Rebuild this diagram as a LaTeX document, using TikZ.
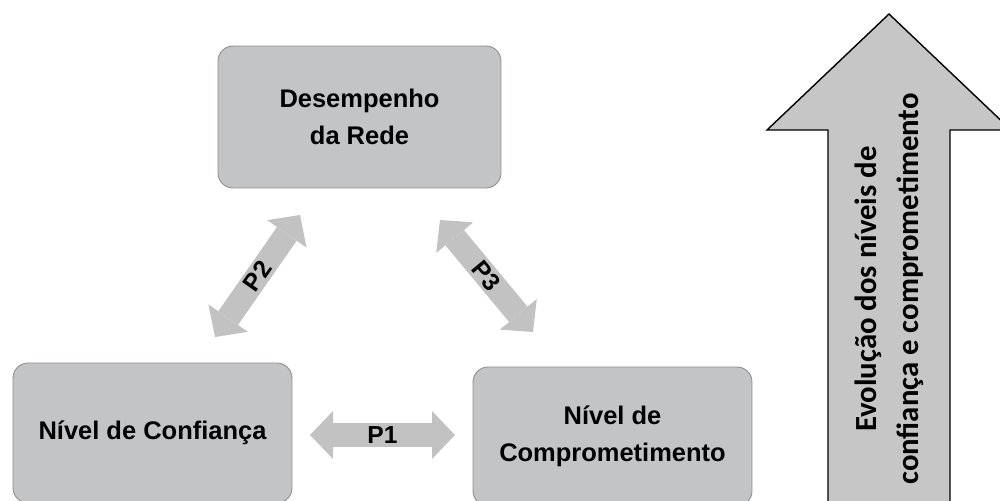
\documentclass[tikz,border=0pt]{standalone}
\usepackage{fontspec}
\setmainfont{Liberation Sans}
\newfontfamily\calibri{Carlito}
\usetikzlibrary{arrows.meta}

\definecolor{boxgray}{HTML}{C3C4C6}
\definecolor{boxline}{HTML}{8E8E8E}
\definecolor{linkgray}{HTML}{C2C2C2}
\definecolor{biggray}{HTML}{C6C6C6}

\begin{document}
\begin{tikzpicture}[x=0.02cm,y=-0.02cm,
    box/.style={draw=boxline,line width=0.5pt,fill=boxgray,rounded corners=0.3cm,
        align=center,font=\fontsize{14.5}{21}\selectfont\bfseries},
    link/.style={draw=linkgray,line width=0.48cm,
        {Triangle[length=0.46cm,width=0.96cm,line width=0pt]}-{Triangle[length=0.46cm,width=0.96cm,line width=0pt]}},
    ]
    
    \useasboundingbox (0,0) rectangle (1000,500);
    \clip (0,0) rectangle (1000,500);
    
    \node[box,minimum width=5.66cm,minimum height=2.84cm] (rede) at (359.5,117) {Desempenho\\da Rede};
    \node[box,minimum width=5.58cm,minimum height=2.8cm] (confianca) at (152.5,433) {Nível de Confiança};
    \node[box,minimum width=5.58cm,minimum height=2.78cm] (compromisso) at (612.5,436.5) {Nível de\\Comprometimento};
    
    % free ends of the three links
    \coordinate (p1a) at (310,435);
    \coordinate (p1b) at (455,435);
    \coordinate (p2a) at (215,337);
    \coordinate (p2b) at (300,215);
    \coordinate (p3a) at (440,220);
    \coordinate (p3b) at (533,332);
    
    \foreach \a/\b/\t in {p1a/p1b/P1,p2a/p2b/P2,p3a/p3b/P3} {
        \draw[link] (\a) -- node[sloped,inner sep=1pt,font=\fontsize{14}{16}\selectfont\bfseries] {\t} (\b);
    }
    
    \draw[fill=biggray,line width=0.8pt,line join=miter]
    (828,520) --
    (828,130) --
    (767,130) --
    (889,14) --
    (1011,130) --
    (950,130) --
    (950,520) --
    cycle;
    \node[rotate=90,align=center,font={\calibri\fontsize{17.5}{24}\selectfont\bfseries}] (evolucao) at (889,289)
    {Evolução dos níveis de\\confiança e comprometimento};
    
\end{tikzpicture}
\end{document}
